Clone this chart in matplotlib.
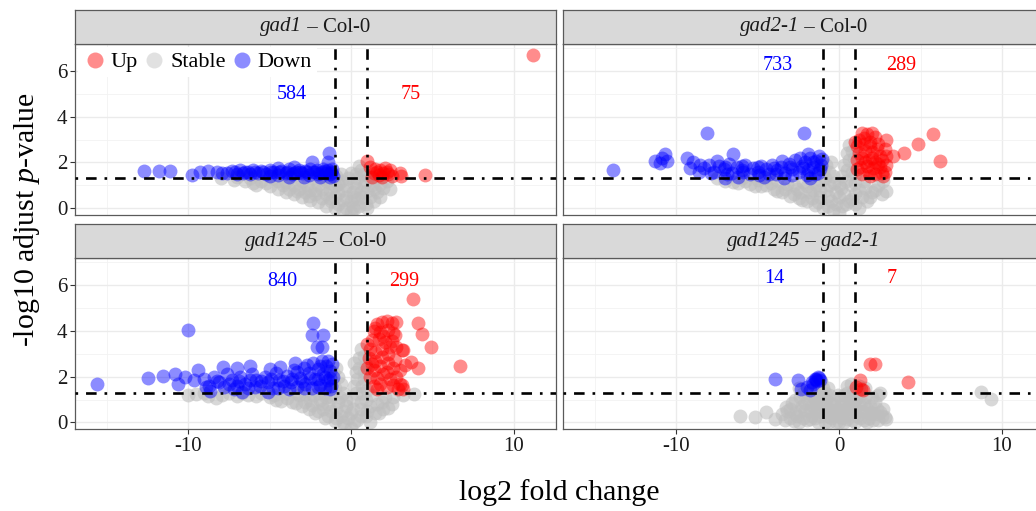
import numpy as np
import matplotlib.pyplot as plt
from matplotlib.lines import Line2D
from matplotlib.offsetbox import TextArea, HPacker, AnchoredOffsetbox

plt.rcParams['font.family'] = ['Liberation Serif', 'DejaVu Serif']
plt.rcParams['mathtext.fontset'] = 'custom'
plt.rcParams['mathtext.rm'] = 'Liberation Serif'
plt.rcParams['mathtext.it'] = 'Liberation Serif:italic'
plt.rcParams['axes.unicode_minus'] = False

# =======================
# === DATA (log2FC, -log10 padj) ===
# =======================

# strip titles as (text, italic?) pieces
panel_titles = [[("gad1", True), (" – Col-0", False)],
                [("gad2-1", True), (" – Col-0", False)],
                [("gad1245", True), (" – Col-0", False)],
                [("gad1245", True), (" – ", False), ("gad2-1", True)]]

n_down = [584, 733, 840, 14]
n_up = [75, 289, 299, 7]
label_x_down = [-3.6, -3.75, -4.2, -3.97]
label_x_up = [3.66, 3.8, 3.3, 3.24]
label_y = [4.95, 6.26, 6.15, 6.3]

# gad1 - Col-0
gad1_stable = [(-8.0, 1.3), (-7.2, 1.25), (-6.5, 1.2), (-6.0, 1.1), (-5.5, 1.2), (-5.0, 0.95),
               (-4.5, 0.85), (-4.5, 1.2), (-4.0, 0.7), (-3.5, 1.0), (-3.5, 0.6), (-3.0, 0.5),
               (-3.0, 1.2), (-2.5, 0.35), (-2.5, 0.8), (-2.0, 0.25), (-2.0, 1.0), (-1.5, 0.1),
               (-1.5, 0.6), (-1.5, 1.2), (-1.0, 0.0), (-1.0, 0.5), (-1.0, 0.95), (-0.9, 1.4),
               (-0.5, -0.1), (-0.5, 0.35), (-0.5, 0.8), (-0.6, 1.2), (0.0, -0.15), (0.0, 0.3),
               (0.1, 0.7), (0.2, 1.1), (0.3, 1.5), (0.5, 1.85), (0.5, 0.1), (0.7, 0.5),
               (0.8, 1.0), (0.8, 1.5), (1.0, 0.0), (1.2, 0.5), (1.3, 1.0), (1.6, 0.7),
               (2.0, 0.9), (2.2, 1.2), (1.5, 1.25), (-2.8, 0.7), (-4.0, 1.15), (-3.2, 0.85),
               (-2.2, 0.6), (-1.2, 0.3), (-0.3, 0.0), (0.4, 0.4), (0.2, -0.05), (-1.5, 1.45),
               (-7.0, 1.35), (-6.2, 1.3), (-5.8, 1.0), (-5.2, 1.1), (-4.8, 1.3), (-4.2, 1.0),
               (-3.8, 0.85), (-3.7, 1.3), (-3.3, 0.75), (-2.7, 1.0), (-2.6, 0.55), (-2.3, 1.3),
               (-2.2, 0.8), (-1.8, 0.45), (-1.8, 0.85), (-1.7, 1.3), (-1.3, 0.45), (-1.3, 0.8),
               (-1.2, 1.1), (-0.8, 0.2), (-0.8, 0.65), (-0.8, 1.05), (-0.3, 0.5), (-0.3, 0.95),
               (-0.2, 1.3), (0.1, 0.05), (0.2, 0.5), (0.3, 0.9), (0.4, 1.3), (0.6, 1.65),
               (0.6, 0.7), (0.9, 0.2), (0.9, 1.2), (1.0, 0.75), (1.1, 1.35), (1.4, 0.3),
               (1.4, 0.85), (1.8, 0.5), (1.8, 1.05), (2.4, 0.85), (-0.6, 1.5), (0.0, 1.55),
               (-1.1, 1.5)]
gad1_down = [(-12.74, 1.61), (-11.76, 1.61), (-11.1, 1.61), (-9.77, 1.47), (-9.26, 1.6),
             (-8.75, 1.62), (-8.24, 1.6), (-7.9, 1.55), (-7.6, 1.55), (-7.3, 1.62), (-7.0, 1.5),
             (-6.8, 1.65), (-6.5, 1.58), (-6.2, 1.48), (-6.0, 1.66), (-5.7, 1.55), (-5.5, 1.62),
             (-5.2, 1.5), (-5.0, 1.68), (-4.7, 1.57), (-4.5, 1.45), (-4.3, 1.64), (-4.0, 1.55),
             (-3.8, 1.7), (-3.6, 1.48), (-3.4, 1.6), (-3.2, 1.67), (-3.0, 1.52), (-2.8, 1.62),
             (-2.6, 1.45), (-2.5, 1.7), (-2.3, 1.57), (-2.1, 1.66), (-2.0, 1.5), (-1.8, 1.6),
             (-1.7, 1.72), (-1.5, 1.55), (-1.4, 1.65), (-1.3, 1.48), (-1.2, 1.6), (-1.15, 1.7),
             (-7.1, 1.6), (-6.6, 1.52), (-6.3, 1.6), (-5.9, 1.58), (-5.4, 1.56), (-4.9, 1.6),
             (-4.4, 1.58), (-3.9, 1.6), (-3.5, 1.55), (-3.1, 1.6), (-2.7, 1.58), (-2.2, 1.6),
             (-1.9, 1.55), (-1.6, 1.62), (-1.25, 1.55), (-1.33, 2.42), (-1.4, 2.0),
             (-2.41, 2.0), (-3.5, 1.8), (-4.5, 1.75), (-3.8, 1.35), (-2.9, 1.38), (-1.9, 1.35),
             (-1.3, 1.35), (-5.0, 1.4), (-1.1, 1.4)]
gad1_up = [(0.96, 2.05), (1.2, 1.8), (1.4, 1.55), (1.5, 1.7), (1.7, 1.45), (1.8, 1.65),
           (2.0, 1.55), (2.1, 1.75), (2.3, 1.5), (2.4, 1.65), (1.3, 1.35), (1.9, 1.35),
           (2.5, 1.4), (1.6, 1.6), (2.2, 1.6), (3.0, 1.54), (3.1, 1.4), (4.54, 1.43),
           (11.16, 6.72)]

# gad2-1 - Col-0
gad2_stable = [(-7.5, 1.3), (-6.5, 1.15), (-6.0, 1.3), (-5.5, 1.05), (-5.0, 1.25), (-4.8, 0.95),
               (-4.2, 1.1), (-4.0, 0.85), (-3.5, 0.7), (-3.2, 1.05), (-3.0, 0.55), (-2.6, 0.85),
               (-2.5, 0.45), (-2.2, 1.15), (-2.0, 0.3), (-1.8, 0.7), (-1.5, 0.15), (-1.4, 1.0),
               (-1.2, 0.5), (-1.0, 0.0), (-0.9, 1.3), (-0.8, 0.8), (-0.6, 1.6), (-0.5, 0.3),
               (-0.4, -0.1), (-0.3, 1.1), (0.0, -0.2), (0.0, 0.5), (0.1, 0.9), (0.2, 1.4),
               (0.3, 1.9), (0.5, 2.4), (0.6, 2.75), (0.4, 0.2), (0.7, 1.0), (0.8, 1.6),
               (0.9, 2.2), (0.8, 0.4), (1.2, 0.0), (1.2, 0.8), (1.5, 1.2), (1.7, 0.3),
               (2.0, 0.7), (2.4, 1.0), (2.9, 0.75), (2.7, 1.2), (-1.0, 1.6), (-1.1, 2.0),
               (-7.0, 1.2), (-6.2, 1.1), (-5.8, 1.2), (-5.2, 0.95), (-4.5, 1.0), (-4.5, 1.3),
               (-3.8, 1.25), (-3.8, 0.75), (-3.3, 0.85), (-2.8, 1.0), (-2.8, 0.6), (-2.4, 0.7),
               (-2.3, 0.35), (-2.0, 0.95), (-1.8, 1.3), (-1.7, 0.45), (-1.6, 0.8), (-1.3, 0.25),
               (-1.2, 0.8), (-1.1, 1.25), (-0.7, 0.1), (-0.7, 0.55), (-0.6, 1.0), (-0.4, 1.4),
               (-0.2, 0.2), (-0.2, 0.7), (0.0, 1.0), (0.2, 0.1), (0.3, 0.6), (0.4, 1.2),
               (0.5, 1.65), (0.6, 2.1), (0.8, 2.5), (0.6, 0.3), (1.0, 0.2), (1.0, 0.6),
               (1.0, 1.1), (1.0, 1.5), (1.4, 0.5), (1.6, 0.9), (1.9, 0.5), (2.2, 0.8),
               (2.6, 0.6), (-0.8, 1.9), (-0.5, 2.0)]
gad2_down = [(-13.88, 1.69), (-11.32, 2.05), (-11.0, 1.98), (-10.7, 2.38), (-10.6, 2.05),
             (-10.9, 2.2), (-9.34, 2.2), (-9.17, 1.76), (-8.15, 3.3), (-2.18, 3.3), (-8.56, 1.9),
             (-7.53, 2.05), (-6.5, 2.35), (-7.0, 1.32), (-8.3, 1.75), (-8.0, 1.9), (-7.7, 1.6),
             (-7.4, 1.85), (-7.1, 1.7), (-6.8, 1.95), (-6.6, 1.55), (-6.3, 1.8), (-6.0, 1.65),
             (-5.8, 1.9), (-5.5, 1.5), (-5.3, 1.75), (-5.0, 1.6), (-4.8, 1.85), (-4.5, 1.7),
             (-4.3, 1.5), (-4.1, 1.9), (-3.8, 1.65), (-3.6, 1.8), (-3.3, 1.55), (-3.1, 1.95),
             (-2.9, 1.7), (-2.7, 2.1), (-2.5, 1.6), (-2.3, 1.85), (-2.1, 2.0), (-1.9, 1.65),
             (-1.8, 2.2), (-1.6, 1.8), (-1.5, 1.5), (-1.4, 2.05), (-1.25, 2.3), (-1.2, 1.7),
             (-1.1, 1.9), (-1.05, 2.15), (-7.9, 1.55), (-6.9, 1.5), (-5.9, 1.6), (-4.9, 1.45),
             (-3.9, 1.5), (-2.9, 1.45), (-2.0, 1.45), (-1.3, 1.55), (-7.0, 1.8), (-6.0, 1.85),
             (-5.0, 1.8), (-4.0, 1.75), (-3.0, 1.8), (-2.2, 1.75), (-1.6, 2.0), (-8.6, 1.6),
             (-9.0, 2.0), (-3.5, 2.05), (-2.4, 2.2), (-1.9, 2.35), (-6.2, 1.35), (-4.6, 1.35),
             (-1.8, 1.32), (-3.4, 1.33)]
gad2_up = [(1.2, 3.0), (1.4, 3.3), (1.7, 3.25), (2.0, 3.3), (2.2, 3.1), (1.1, 2.7), (1.5, 2.8),
           (1.9, 2.9), (2.4, 2.8), (1.2, 2.4), (1.6, 2.5), (2.0, 2.45), (2.5, 2.3), (2.8, 2.6),
           (1.1, 2.1), (1.4, 2.2), (1.8, 2.1), (2.2, 2.0), (2.6, 2.1), (1.3, 1.8), (1.7, 1.85),
           (2.1, 1.75), (2.5, 1.8), (2.9, 1.9), (1.4, 1.5), (1.8, 1.55), (2.2, 1.5), (2.6, 1.55),
           (1.1, 1.7), (1.0, 2.9), (1.5, 3.05), (1.9, 2.7), (2.3, 2.6), (1.6, 2.0), (2.0, 2.2),
           (2.4, 1.95), (1.9, 1.4), (2.7, 1.4), (2.9, 3.0), (3.3, 2.27), (4.0, 2.42),
           (4.83, 2.79), (5.75, 3.25), (6.17, 2.05), (2.9, 2.3), (2.8, 1.6)]

# gad1245 - Col-0
gad1245_stable = [(-10.0, 1.2), (-9.0, 1.3), (-8.3, 1.05), (-7.5, 1.3), (-6.3, 1.2), (-5.5, 1.3),
                  (-5.0, 1.1), (-4.3, 0.95), (-4.0, 1.3), (-3.6, 0.9), (-3.2, 1.2), (-3.0, 0.7),
                  (-2.6, 0.6), (-2.5, 1.0), (-2.2, 0.4), (-2.0, 1.3), (-1.8, 0.8), (-1.6, 0.2),
                  (-1.5, 1.1), (-1.2, 0.5), (-1.0, 1.5), (-1.0, 0.05), (-0.8, 0.9), (-0.8, 2.0),
                  (-0.6, 0.3), (-0.5, 1.3), (-0.4, -0.1), (-0.3, 0.7), (0.0, -0.25), (0.0, 0.4),
                  (0.1, 1.0), (0.2, 1.6), (0.3, 2.2), (0.5, 2.8), (0.65, 3.2), (0.4, 0.1),
                  (0.6, 0.6), (0.7, 1.3), (0.8, 1.9), (0.9, 2.5), (0.9, 0.3), (1.2, 0.0),
                  (1.2, 0.7), (1.3, 1.2), (1.7, 0.4), (1.9, 0.9), (2.3, 0.65), (2.6, 1.1),
                  (3.2, 1.2), (3.9, 1.26), (-0.9, 2.4), (-1.1, 2.2),
                  (-9.5, 1.25), (-8.8, 1.15), (-7.9, 1.2), (-7.0, 1.15), (-6.7, 1.3), (-5.8, 1.15),
                  (-4.7, 1.2), (-4.6, 1.0), (-3.9, 1.05), (-3.4, 0.85), (-3.3, 1.3), (-2.8, 0.9),
                  (-2.8, 1.25), (-2.4, 0.75), (-2.3, 1.2), (-2.0, 0.5), (-1.9, 1.0), (-1.7, 0.6),
                  (-1.6, 1.3), (-1.4, 0.3), (-1.4, 0.8), (-1.3, 1.5), (-1.2, 1.1), (-1.1, 1.8),
                  (-0.9, 0.2), (-0.9, 0.6), (-0.7, 1.1), (-0.6, 1.7), (-0.5, 0.0), (-0.4, 0.5),
                  (-0.3, 1.0), (-0.2, 0.2), (0.1, 0.6), (0.2, 0.0), (0.3, 1.3), (0.4, 1.9),
                  (0.5, 2.4), (0.6, 0.9), (0.6, 0.3), (0.7, 1.6), (0.8, 2.2), (0.8, 2.9),
                  (0.9, 1.0), (1.0, 0.5), (1.0, 1.4), (1.5, 0.4), (1.6, 0.8), (2.0, 0.6),
                  (2.1, 1.1), (2.5, 0.8), (0.2, 2.6)]
gad1245_down = [(-15.6, 1.7), (-9.98, 4.04), (-12.44, 1.94), (-11.52, 2.03), (-10.8, 2.14),
                (-10.18, 1.99), (-9.37, 2.28), (-9.67, 1.84), (-10.6, 1.7), (-2.31, 4.37),
                (-2.41, 3.82), (-1.7, 3.82), (-2.1, 3.3), (-1.8, 3.3), (-3.44, 2.62),
                (-7.83, 2.43), (-7.0, 2.38), (-6.2, 2.46), (-4.36, 2.43), (-8.65, 1.36),
                (-6.7, 1.33), (-5.07, 1.33), (-9.0, 1.9), (-8.7, 1.6), (-8.4, 2.0), (-8.1, 1.75),
                (-7.8, 1.55), (-7.6, 2.1), (-7.3, 1.85), (-7.0, 1.6), (-6.8, 2.0), (-6.5, 1.7),
                (-6.3, 1.5), (-6.1, 2.1), (-5.8, 1.85), (-5.6, 1.6), (-5.3, 2.0), (-5.1, 1.75),
                (-4.8, 1.5), (-4.6, 2.15), (-4.4, 1.85), (-4.1, 1.6), (-3.9, 2.05), (-3.7, 1.75),
                (-3.5, 2.3), (-3.3, 1.55), (-3.1, 1.95), (-2.9, 2.4), (-2.8, 1.7), (-2.6, 2.15),
                (-2.4, 1.5), (-2.3, 2.6), (-2.2, 1.9), (-2.0, 2.35), (-1.9, 1.65), (-1.8, 2.7),
                (-1.7, 2.1), (-1.6, 1.5), (-1.5, 2.45), (-1.4, 1.85), (-1.3, 2.25), (-1.2, 1.6),
                (-1.15, 2.55), (-1.1, 2.0), (-8.9, 1.55), (-8.2, 1.8), (-7.5, 1.7), (-6.9, 1.8),
                (-6.2, 1.85), (-5.5, 1.8), (-4.9, 1.9), (-4.2, 1.8), (-3.6, 1.9), (-3.0, 1.8),
                (-2.5, 1.95), (-2.0, 1.9), (-1.6, 2.0), (-1.3, 1.95), (-2.7, 2.5), (-1.9, 2.45),
                (-1.4, 2.7), (-3.3, 2.2), (-5.9, 1.55), (-4.5, 1.5), (-3.8, 1.45), (-2.9, 1.5),
                (-2.0, 1.55), (-1.3, 1.45), (-7.2, 1.45), (-5.0, 2.35)]
gad1245_up = [(1.6, 4.3), (1.9, 4.4), (2.2, 4.45), (2.5, 4.35), (2.8, 4.4), (1.4, 4.0), (1.8, 3.95),
              (2.3, 4.05), (2.6, 3.9), (1.3, 3.6), (1.7, 3.65), (2.1, 3.5), (2.5, 3.55), (1.0, 3.45),
              (1.2, 3.2), (1.5, 3.1), (1.9, 3.2), (2.3, 3.0), (2.8, 3.3), (3.2, 3.15), (1.1, 2.8),
              (1.5, 2.7), (1.9, 2.85), (2.3, 2.6), (2.7, 2.75), (1.0, 2.4), (1.4, 2.3), (1.8, 2.45),
              (2.2, 2.2), (2.6, 2.4), (3.0, 2.3), (1.2, 2.0), (1.6, 1.95), (2.0, 2.1), (2.4, 1.9),
              (2.8, 2.0), (3.3, 2.5), (1.4, 1.6), (1.8, 1.7), (2.2, 1.55), (2.6, 1.65), (3.0, 1.7),
              (3.2, 1.45), (1.6, 1.45), (2.9, 1.45), (2.0, 3.8), (1.5, 4.15), (2.4, 3.3), (1.3, 2.55),
              (3.82, 5.39), (4.13, 4.37), (4.34, 3.89), (4.95, 3.28), (6.69, 2.46), (4.13, 2.38),
              (3.72, 2.64), (3.11, 3.16), (3.11, 1.62), (2.7, 3.82)]

# gad1245 - gad2-1
mut_stable = [(-6.1, 0.28), (-5.18, 0.23), (-4.47, 0.45), (-3.96, 0.16), (-3.24, 0.67),
              (8.72, 1.33), (9.34, 1.04), (2.79, 0.23), (2.38, 1.18), (-3.0, 0.2), (-3.0, 0.6),
              (-2.7, 1.0), (-2.6, 0.3), (-2.3, 0.7), (-2.2, 1.3), (-2.0, 0.1), (-1.9, 1.0),
              (-1.8, 0.5), (-1.6, 1.5), (-1.5, 0.2), (-1.4, 0.8), (-1.2, 1.2), (-1.1, 1.8),
              (-1.0, 0.4), (-0.9, 0.0), (-0.8, 1.0), (-0.7, 1.5), (-0.6, 0.6), (-0.5, 0.2),
              (-0.3, 1.0), (-0.2, 0.4), (0.0, 0.0), (0.1, 0.7), (0.3, 1.2), (0.4, 0.3),
              (0.5, 1.6), (0.6, 0.9), (0.8, 0.1), (0.9, 1.4), (1.0, 0.6), (1.2, 1.1),
              (1.3, 0.2), (1.5, 0.8), (1.6, 1.5), (1.8, 0.4), (2.0, 1.1), (2.1, 0.1),
              (2.3, 0.6), (2.6, 0.3), (2.5, 1.3), (-2.5, 1.5), (-0.1, 1.2), (0.7, 1.7),
              (-1.3, 0.0), (1.7, 0.0), (-3.5, 0.35), (-2.8, 0.05), (-2.4, 0.5), (-2.1, 0.85),
              (-1.7, 0.3), (-1.3, 0.6), (-1.0, 1.1), (-0.7, 0.3), (-0.4, 0.8), (0.2, 0.2),
              (0.4, 0.6), (0.7, 1.1), (1.1, 0.3), (1.4, 0.5), (1.9, 0.7), (2.2, 0.35),
              (-1.6, 1.1), (1.2, 1.6), (-0.9, 0.7), (0.9, 0.8),
              (-3.3, 0.1), (-3.2, 0.5), (-2.9, 0.85), (-2.7, 0.4), (-2.5, 0.0), (-2.4, 1.1),
              (-2.2, 0.2), (-2.1, 0.55), (-1.9, 1.3), (-1.8, 0.15), (-1.7, 0.75), (-1.5, 0.5),
              (-1.5, 1.3), (-1.4, 1.0), (-1.2, 0.3), (-1.1, 0.8), (-1.0, 1.5), (-0.9, 1.3),
              (-0.8, 0.5), (-0.6, 0.0), (-0.6, 1.2), (-0.5, 0.8), (-0.4, 0.4), (-0.2, 0.0),
              (-0.1, 0.6), (0.0, 0.3), (0.1, 1.0), (0.2, 0.5), (0.3, 0.0), (0.3, 0.8),
              (0.5, 0.15), (0.5, 1.3), (0.6, 0.5), (0.8, 0.7), (0.8, 1.25), (1.0, 0.0),
              (1.0, 1.0), (1.1, 1.4), (1.2, 0.5), (1.3, 0.8), (1.5, 0.1), (1.6, 1.1),
              (1.7, 0.6), (1.8, 0.2), (2.0, 0.4), (2.2, 0.9), (2.4, 0.1), (2.7, 0.6),
              (2.9, 0.15), (2.5, 0.45)]
mut_down = [(-3.96, 1.92), (-2.53, 1.84), (-2.32, 1.48), (-1.81, 1.4), (-1.5, 1.92), (-1.3, 1.99),
            (-1.7, 1.77), (-1.2, 1.84), (-1.4, 1.9), (-2.0, 1.55), (-1.6, 1.7), (-1.35, 1.8),
            (-1.25, 1.95), (-1.45, 1.85)]
mut_up = [(1.87, 2.54), (2.18, 2.54), (1.26, 1.84), (1.36, 1.48), (1.05, 1.55), (4.22, 1.77),
          (1.45, 1.42)]

stable_sets = [gad1_stable, gad2_stable, gad1245_stable, mut_stable]
down_sets = [gad1_down, gad2_down, gad1245_down, mut_down]
up_sets = [gad1_up, gad2_up, gad1245_up, mut_up]

# =======================
# === PLOT ===
# =======================

col_up, col_stable, col_down = "#FF0000", "#BEBEBE", "#0000FF"
alpha = 0.45
alpha_stable = 0.6
msize = 100
fc_cut, p_cut = 1.0, -np.log10(0.05)
dotdash = (0, (1, 3, 4, 3))

W, H = 1036, 511
fig = plt.figure(figsize=(W / 100, H / 100), dpi=100)

# pixel boxes (left, top) of the four panels
lefts = [75, 563.3, 75, 563.3]
tops = [44, 44, 258.3, 258.3]
pw, ph, sh = 481, 171, 34

for i in range(4):
    l, t = lefts[i], tops[i]
    ax = fig.add_axes([l / W, 1 - (t + ph) / H, pw / W, ph / H])
    sax = fig.add_axes([l / W, 1 - t / H, pw / W, sh / H])

    # strip with italic genotype names
    sax.set_facecolor("#D9D9D9")
    sax.set_xticks([])
    sax.set_yticks([])
    for s in sax.spines.values():
        s.set_color("#5a5a5a")
        s.set_linewidth(0.9)
    pieces = [TextArea(txt, textprops=dict(fontsize=15, color="#1a1a1a",
                                           style="italic" if it else "normal"))
              for txt, it in panel_titles[i]]
    box = AnchoredOffsetbox(loc="center", child=HPacker(children=pieces, pad=0, sep=0),
                            frameon=False, pad=0, borderpad=0)
    sax.add_artist(box)

    # points
    for pts, c, a in [(stable_sets[i], col_stable, alpha_stable),
                      (down_sets[i], col_down, alpha),
                      (up_sets[i], col_up, alpha)]:
        xy = np.array(pts)
        ax.scatter(xy[:, 0], xy[:, 1], s=msize, color=c, alpha=a, linewidths=0, zorder=2)

    # threshold lines
    ax.axvline(-fc_cut, color="black", lw=1.9, ls=dotdash, zorder=3)
    ax.axvline(fc_cut, color="black", lw=1.9, ls=dotdash, zorder=3)
    ax.axhline(p_cut, color="black", lw=1.9, ls=dotdash, zorder=3)

    # counts
    ax.text(label_x_down[i], label_y[i], str(n_down[i]), color=col_down,
            ha="center", va="center", fontsize=14.5)
    ax.text(label_x_up[i], label_y[i], str(n_up[i]), color=col_up,
            ha="center", va="center", fontsize=14.5)

    ax.set_xlim(-16.95, 12.6)
    ax.set_ylim(-0.3, 7.18)
    ax.set_xticks([-10, 0, 10])
    ax.set_xticks([-15, -5, 5], minor=True)
    ax.set_yticks([0, 2, 4, 6])
    ax.set_yticks([1, 3, 5, 7], minor=True)
    ax.grid(which="major", color="#EBEBEB", lw=1.0, zorder=0)
    ax.grid(which="minor", color="#F2F2F2", lw=0.6, zorder=0)
    ax.set_axisbelow(True)
    ax.tick_params(which="minor", length=0)
    ax.tick_params(which="major", length=3.5, width=0.8, color="#333333",
                   labelsize=15, labelcolor="#1a1a1a", pad=2)
    for s in ax.spines.values():
        s.set_color("#5a5a5a")
        s.set_linewidth(0.9)

    if i in (0, 1):
        ax.tick_params(axis="x", bottom=False, labelbottom=False)
    if i in (1, 3):
        ax.tick_params(axis="y", left=False, labelleft=False)

    if i == 0:
        handles = [Line2D([], [], ls="", marker="o", markersize=11.5, markeredgewidth=0,
                          markerfacecolor=c, alpha=alpha, label=lab)
                   for c, lab in [(col_up, "Up"), (col_stable, "Stable"), (col_down, "Down")]]
        leg = ax.legend(handles=handles, loc="upper left", bbox_to_anchor=(0.0, 1.0),
                        ncol=3, fontsize=16, frameon=True, fancybox=False, framealpha=1,
                        facecolor="white", edgecolor="none", borderaxespad=0.15,
                        borderpad=0.2, columnspacing=0.2, handletextpad=0.15,
                        handlelength=1.1)
        leg.set_zorder(5)

fig.text(559 / W, 1 - 493 / H, "log2 fold change", ha="center", va="center", fontsize=21.5)
fig.text(27 / W, 1 - 220 / H, r"-log10 adjust $\mathit{p}$-value", ha="center", va="center",
         rotation=90, fontsize=21.5)

fig.savefig("out.png", dpi=100)
